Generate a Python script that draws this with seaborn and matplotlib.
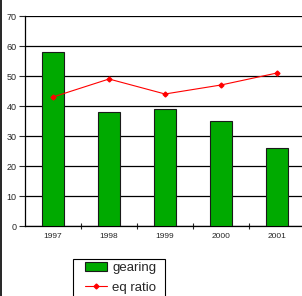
import seaborn as sns
import pandas as pd
import matplotlib
import matplotlib.pyplot as plt
from matplotlib.lines import Line2D
from matplotlib.patches import Rectangle
from matplotlib.ticker import FixedLocator, MultipleLocator

matplotlib.use('Agg')

years = ['1997', '1998', '1999', '2000', '2001']
gearing = [58, 38, 39, 35, 26]
eq_ratio = [43, 49, 44, 47, 51]

df = pd.DataFrame({'year': years, 'gearing': gearing, 'eq ratio': eq_ratio})

sns.set_style('white')
plt.rcParams['font.family'] = ['Liberation Sans', 'DejaVu Sans']

fig = plt.figure(figsize=(3.02, 2.96), dpi=100)
ax = fig.add_axes([25 / 302, 1 - 226 / 296, 280 / 302, 210 / 296])

sns.barplot(data=df, x='year', y='gearing', ax=ax, color='#00aa00', width=0.4,
            edgecolor='#1a1a1a', linewidth=0.8, saturation=1, zorder=3)
line, = ax.plot(range(len(years)), df['eq ratio'], color='#ff0000', linewidth=0.8,
                marker='D', markersize=2.5, zorder=4)

ax.set_xlim(-0.5, 4.5)
ax.set_ylim(0, 70)
ax.yaxis.set_major_locator(MultipleLocator(10))
ax.grid(axis='y', color='black', linewidth=0.9, zorder=0)
ax.set_axisbelow(True)

# tick marks between categories, labels centred under bars
ax.xaxis.set_minor_locator(FixedLocator([0.5, 1.5, 2.5, 3.5]))
ax.tick_params(axis='x', which='major', length=0, labelsize=6, pad=5)
ax.tick_params(axis='x', which='minor', length=5, width=0.8, direction='inout', bottom=True)
ax.tick_params(axis='y', length=4, width=0.8, direction='out', left=True, labelsize=6.5, pad=2)
ax.set_xlabel('')
ax.set_ylabel('')

for side in ['top', 'right']:
    ax.spines[side].set_visible(False)
for side in ['left', 'bottom']:
    ax.spines[side].set_color('black')
    ax.spines[side].set_linewidth(0.9)

# left edge of the chart frame
fig.add_artist(Line2D([0.002, 0.002], [0, 1], transform=fig.transFigure,
                      color='black', linewidth=1.2))

# legend box runs off the bottom of the image
fig.add_artist(Rectangle((73 / 302, -0.05), 92 / 302, 0.05 + 37 / 296,
                         transform=fig.transFigure, fill=False,
                         edgecolor='black', linewidth=0.8))

bar_handle = ax.patches[0]
leg = fig.legend([bar_handle, line], ['gearing', 'eq ratio'], loc='upper left',
                 bbox_to_anchor=(85 / 302, 34 / 296),
                 fontsize=9.5, frameon=False, borderpad=0, handlelength=1.7,
                 handletextpad=0.35, labelspacing=0.55, borderaxespad=0)

fig.savefig('out.png', dpi=100)
plt.close()
